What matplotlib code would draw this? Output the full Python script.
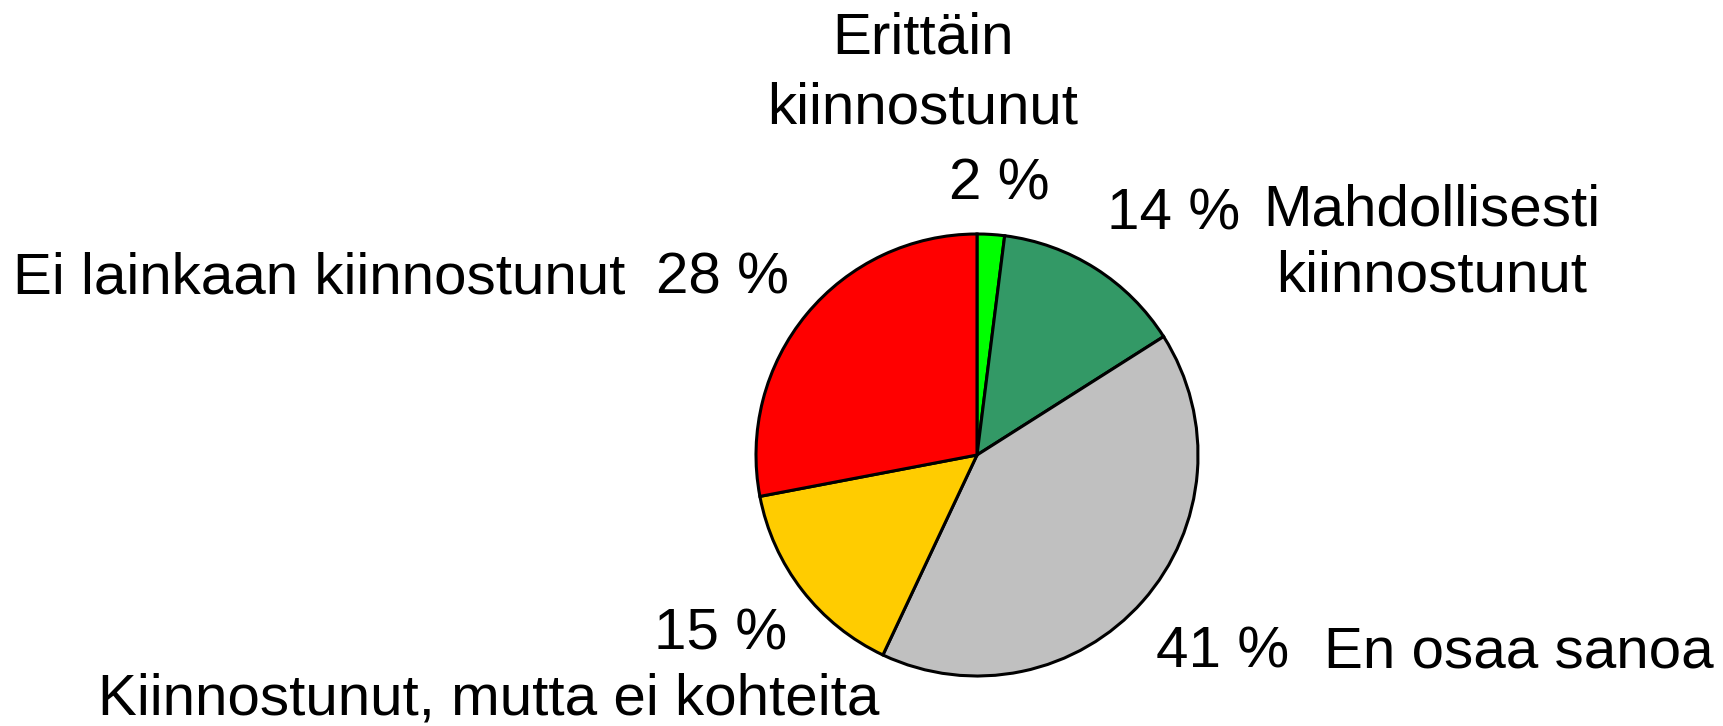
import matplotlib
matplotlib.use("Agg")
import matplotlib.pyplot as plt

categories = ["Erittäin\nkiinnostunut", "Mahdollisesti\nkiinnostunut", "En osaa sanoa",
              "Kiinnostunut, mutta ei kohteita", "Ei lainkaan kiinnostunut"]
values = [2, 14, 41, 15, 28]
pct_labels = ["2 %", "14 %", "41 %", "15 %", "28 %"]
colors = ["#00FF00", "#339966", "#C0C0C0", "#FFCC00", "#FF0000"]

W, H = 1723, 726
plt.rcParams['font.family'] = ['Liberation Sans', 'DejaVu Sans']
fig = plt.figure(figsize=(W / 100, H / 100), dpi=100)
fig.patch.set_facecolor("white")

cx, cy, r = 977, 455, 221
ax = fig.add_axes([(cx - r) / W, (H - cy - r) / H, 2 * r / W, 2 * r / H])
ax.pie(values, colors=colors, startangle=90, counterclock=False,
       wedgeprops=dict(edgecolor="black", linewidth=2.2))
ax.set_xlim(-1.0, 1.0)
ax.set_ylim(-1.0, 1.0)
ax.set_axis_off()

fs = 42

def put(text, px, py, ha="left", va="baseline", ls=1.2):
    fig.text(px / W, 1 - py / H, text, ha=ha, va=va, fontsize=fs,
             multialignment="center", color="black", linespacing=ls)

# category labels (baseline = last line)
put(categories[0], 923, 123, ha="center", ls=1.36)
put(categories[1], 1432, 291, ha="center", ls=1.28)
put(categories[2], 1324, 667)
put(categories[3], 489, 714, ha="center")
put(categories[4], 13, 294)

# percentage labels
put(pct_labels[0], 999, 200, ha="center")
put(pct_labels[1], 1107, 230)
put(pct_labels[2], 1156, 667)
put(pct_labels[3], 654, 650)
put(pct_labels[4], 656, 294)

fig.savefig("out.png", dpi=100, facecolor="white")
